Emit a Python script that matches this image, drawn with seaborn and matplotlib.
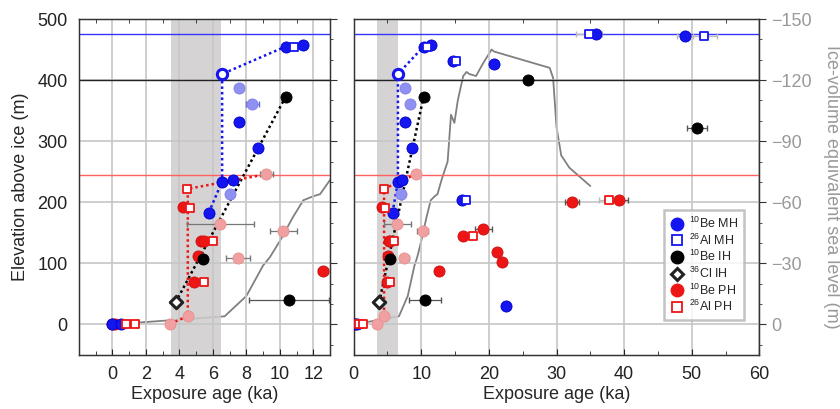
import numpy as np
import matplotlib
matplotlib.use('Agg')
import matplotlib.pyplot as plt
import seaborn as sns
from matplotlib.lines import Line2D
from matplotlib.ticker import MultipleLocator

# ---- datos ----
# 10Be MH
mh_be_age = [10.35, 11.4, 8.7, 7.55, 6.55, 7.2, 5.75, 14.7, 20.8, 16.0, 22.6, 35.8, 49.0, 0.0, 0.5]
mh_be_elev = [455, 458, 289, 331, 234, 237, 183, 432, 426, 204, 31, 476, 473, 0, 0]
mh_be_err = [0, 0, 0, 0, 0, 0, 0, 0, 0, 0, 0, 0.6, 1.2, 0, 0]
# 26Al MH
mh_al_age = [10.85, 15.2, 16.6, 34.8, 51.8]
mh_al_elev = [455, 432, 204, 476, 473]
mh_al_err = [0, 0, 0, 1.9, 2.0]
# MH atenuados
mh_faded_age = [7.55, 8.35, 7.0]
mh_faded_elev = [387, 361, 214]
mh_faded_err = [0.15, 0.4, 0.1]
# MH círculo abierto
mh_open_age = [6.55]
mh_open_elev = [410]
# 10Be IH
ih_be_age = [10.35, 5.4, 10.55, 25.8, 50.8]
ih_be_elev = [373, 107, 40, 400, 321]
ih_be_err = [0, 0, 2.4, 0.6, 1.5]
# 36Cl IH
ih_cl_age = [3.77]
ih_cl_elev = [36]
# 10Be PH
ph_be_age = [4.2, 5.3, 5.45, 5.1, 4.9, 12.6, 32.3, 39.3, 19.2, 16.2, 21.2, 21.9, 0.0, 0.15]
ph_be_elev = [192, 137, 137, 112, 70, 87, 201, 204, 156, 145, 118, 103, 0, 0]
ph_be_err = [0, 0, 0, 0, 0, 0.3, 1.0, 1.3, 1.2, 0, 0.5, 0, 0, 0]
# 26Al PH
ph_al_age = [4.62, 6.0, 5.45, 4.48, 17.6, 37.8, 0.8, 1.35]
ph_al_elev = [191, 137, 69, 222, 145, 204, 0, 0]
ph_al_err = [0, 0, 0, 0, 0, 1.5, 0, 0]
# PH atenuados
ph_faded_age = [9.2, 6.45, 10.2, 7.5, 4.5, 3.45]
ph_faded_elev = [246, 164, 153, 109, 14, 1]
ph_faded_err = [0.4, 2.0, 0.8, 0.7, 0.2, 0.2]

# líneas punteadas
mh_path_age = [5.75, 6.55, 6.55, 10.35]
mh_path_elev = [183, 234, 410, 455]
ih_path_age = [3.77, 10.35]
ih_path_elev = [36, 373]
ph_path_age = [3.45, 4.5, 4.5, 9.2]
ph_path_elev = [1, 14, 222, 246]

# niveles de referencia
mh_level, ih_level, ph_level = 475, 400, 245

# nivel del mar (m)
sl_age = [0, 6.7, 8, 9, 9.4, 10, 10.8, 11.4, 12, 12.4, 13, 13.9, 14.4, 14.9, 15.4,
          16.2, 16.7, 17.1, 18.1, 19.1, 20.4, 20.8, 29.0, 29.5, 30.0, 30.7, 31.9, 35.0]
sl_level = [0, -4, -14, -29, -33, -41, -53, -61, -63, -64, -71, -80, -103, -99, -110,
            -122, -124, -123, -122, -128, -135, -134, -126, -121, -97, -83, -77, -68]

BLUE = '#1515f0'
RED = '#ee1515'
BLACK = '#000000'
GRAY_TXT = '#999999'
FS = 13

sns.set_style('ticks')
plt.rcParams['font.family'] = ['Liberation Sans', 'DejaVu Sans']
plt.rcParams['mathtext.default'] = 'regular'

fig = plt.figure(figsize=(8.4, 4.09), dpi=100)
ax1 = fig.add_axes([0.094, 0.132, 0.299, 0.8215])
ax2 = fig.add_axes([0.421, 0.132, 0.483, 0.8215])


def errs(ax, x, y, e, color='#555555'):
    for xi, yi, ei in zip(x, y, e):
        if ei > 0:
            ax.errorbar(xi, yi, xerr=ei, fmt='none', ecolor=color, elinewidth=0.9,
                        capsize=2, zorder=3)


def draw(ax):
    ax.axvspan(3.5, 6.5, color='#cfcccd', alpha=0.85, lw=0, zorder=0.5)
    ax.grid(True, which='major', color='#c6c6c6', lw=1.2, zorder=0)
    ax.axhline(mh_level, color='#3535ff', lw=1, zorder=1)
    ax.axhline(ih_level, color='#222222', lw=1, zorder=1)
    ax.axhline(ph_level, color='#ff6060', lw=1, zorder=1)

    sns.lineplot(x=mh_path_age, y=mh_path_elev, sort=False, estimator=None, ax=ax,
                 color=BLUE, lw=1.8, linestyle=(0, (1, 1.2)), zorder=2)
    sns.lineplot(x=ih_path_age, y=ih_path_elev, sort=False, estimator=None, ax=ax,
                 color=BLACK, lw=1.8, linestyle=(0, (1, 1.2)), zorder=2)
    sns.lineplot(x=ph_path_age, y=ph_path_elev, sort=False, estimator=None, ax=ax,
                 color=RED, lw=1.8, linestyle=(0, (1, 1.2)), zorder=2)

    errs(ax, ih_be_age, ih_be_elev, ih_be_err)
    errs(ax, ph_be_age, ph_be_elev, ph_be_err)
    errs(ax, ph_al_age, ph_al_elev, ph_al_err, '#bbbbbb')
    errs(ax, mh_be_age, mh_be_elev, mh_be_err, '#bbbbbb')
    errs(ax, mh_al_age, mh_al_elev, mh_al_err, '#bbbbbb')
    errs(ax, ph_faded_age, ph_faded_elev, ph_faded_err, '#777777')
    errs(ax, mh_faded_age, mh_faded_elev, mh_faded_err, '#6666cc')

    sns.scatterplot(x=ph_faded_age, y=ph_faded_elev, ax=ax, color='#f0a0a0',
                    edgecolor='#e89090', s=64, linewidth=0.6, zorder=4)
    sns.scatterplot(x=mh_faded_age, y=mh_faded_elev, ax=ax, color='#9090f0',
                    edgecolor='#8080e8', s=64, linewidth=0.6, zorder=4)
    sns.scatterplot(x=ph_be_age, y=ph_be_elev, ax=ax, color=RED,
                    edgecolor='#cc1111', s=64, linewidth=0.6, zorder=5)
    sns.scatterplot(x=ph_al_age, y=ph_al_elev, ax=ax, color='white', marker='s',
                    edgecolor=RED, s=36, linewidth=1.3, zorder=6)
    sns.scatterplot(x=mh_be_age, y=mh_be_elev, ax=ax, color=BLUE,
                    edgecolor='#0000cc', s=64, linewidth=0.6, zorder=5)
    sns.scatterplot(x=mh_al_age, y=mh_al_elev, ax=ax, color='white', marker='s',
                    edgecolor=BLUE, s=36, linewidth=1.3, zorder=6)
    sns.scatterplot(x=mh_open_age, y=mh_open_elev, ax=ax, color='white',
                    edgecolor=BLUE, s=55, linewidth=2.2, zorder=6)
    sns.scatterplot(x=ih_be_age, y=ih_be_elev, ax=ax, color=BLACK,
                    edgecolor=BLACK, s=64, linewidth=0.6, zorder=6)
    sns.scatterplot(x=ih_cl_age, y=ih_cl_elev, ax=ax, color='white', marker='D',
                    edgecolor='#222222', s=40, linewidth=2.2, zorder=6)

    ax.set_ylim(-50, 500)
    ax.yaxis.set_major_locator(MultipleLocator(100))
    ax.set_xlabel('Exposure age (ka)', fontsize=FS, labelpad=2)
    for s in ax.spines.values():
        s.set_color('#333333')
        s.set_linewidth(1)
    ax.tick_params(which='both', direction='in', bottom=True, top=False,
                   labelsize=FS, colors='#222222')
    ax.tick_params(axis='x', which='major', pad=8)
    ax.tick_params(which='minor', top=True, length=3)
    ax.tick_params(which='major', length=4)

    tw = ax.twinx()
    sns.lineplot(x=sl_age, y=sl_level, sort=False, estimator=None, ax=tw,
                 color='#808080', lw=1.3)
    tw.set_ylim(15, -150)
    tw.yaxis.set_major_locator(MultipleLocator(30))
    tw.yaxis.set_minor_locator(MultipleLocator(10))
    tw.tick_params(which='major', direction='out', length=5, colors='#333333',
                   labelcolor=GRAY_TXT, labelsize=FS)
    tw.tick_params(which='minor', direction='out', length=2.5, colors='#333333')
    tw.set_ylabel('')
    ax.set_zorder(tw.get_zorder() + 1)
    ax.patch.set_visible(False)
    return tw


tw1 = draw(ax1)
tw2 = draw(ax2)

ax1.set_xlim(-2, 13)
ax1.set_xticks([0, 2, 4, 6, 8, 10, 12])
ax1.xaxis.set_minor_locator(MultipleLocator(1))
ax1.set_ylabel('Elevation above ice (m)', fontsize=FS, labelpad=6)
ax1.tick_params(axis='y', which='major', length=0, pad=8)
tw1.tick_params(which='both', labelright=False)

ax2.set_xlim(0, 60)
ax2.set_xticks([0, 10, 20, 30, 40, 50, 60])
ax2.xaxis.set_minor_locator(MultipleLocator(5))
ax2.tick_params(axis='y', which='both', length=0, labelleft=False)
ax2.set_ylabel('')
tw2.set_ylabel('Ice-volume equivalent sea level (m)', fontsize=FS, color=GRAY_TXT,
               rotation=270, labelpad=20)
tw2.set_yticks([-150, -120, -90, -60, -30, 0])
tw2.set_yticklabels(['\u2212150', '\u2212120', '\u221290', '\u221260', '\u221230', '0'])

handles = [
    Line2D([], [], ls='none', marker='o', color=BLUE, markersize=9),
    Line2D([], [], ls='none', marker='s', mfc='white', mec=BLUE, mew=1.3, markersize=6.5),
    Line2D([], [], ls='none', marker='o', color=BLACK, markersize=9),
    Line2D([], [], ls='none', marker='D', mfc='white', mec='#222222', mew=2.2, markersize=6.5),
    Line2D([], [], ls='none', marker='o', color=RED, markersize=9),
    Line2D([], [], ls='none', marker='s', mfc='white', mec=RED, mew=1.3, markersize=6.5),
]
labels = ['$^{10}$Be MH', '$^{26}$Al MH', '$^{10}$Be IH', '$^{36}$Cl IH',
          '$^{10}$Be PH', '$^{26}$Al PH']
leg = ax2.legend(handles, labels, loc='lower right', bbox_to_anchor=(0.963, 0.104),
                 fontsize=9, frameon=True, fancybox=False, handletextpad=0.4,
                 borderpad=0.45, labelspacing=0.12, handlelength=1.2,
                 borderaxespad=0)
leg.get_frame().set_edgecolor('#b5b5b5')
leg.get_frame().set_linewidth(1.8)
leg.set_zorder(20)

fig.savefig('out.png', dpi=100)
